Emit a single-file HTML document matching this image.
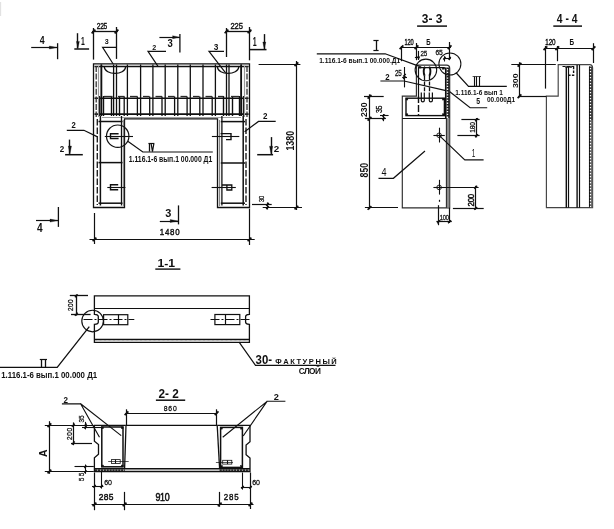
<!DOCTYPE html>
<html><head><meta charset="utf-8"><title>drawing</title>
<style>
html,body{margin:0;padding:0;background:#fff;}
body{width:614px;height:529px;overflow:hidden;font-family:"Liberation Sans",sans-serif;}
svg{display:block;filter:grayscale(1);}
</style></head><body>
<svg width="614" height="529" viewBox="0 0 614 529">
<rect x="0" y="0" width="614" height="529" fill="#ffffff"/>
<path d="M93.5,207.5 L93.5,63.9 L249.5,63.9 L249.5,207.5 L217.5,207.5 L217.5,118.9 L124.5,118.9 L124.5,207.5 Z" fill="none" stroke="#101010" stroke-width="1.3"/>
<line x1="94.5" y1="66.6" x2="248.6" y2="66.6" stroke="#101010" stroke-width="1.5"/>
<line x1="94.5" y1="98.2" x2="248.6" y2="98.2" stroke="#101010" stroke-width="1.5"/>
<line x1="94.5" y1="114.2" x2="248.6" y2="114.2" stroke="#101010" stroke-width="1.7"/>
<line x1="102" y1="117.5" x2="241" y2="117.5" stroke="#777" stroke-width="0.7"/>
<line x1="101.4" y1="64.5" x2="101.4" y2="116.0" stroke="#101010" stroke-width="1.3"/>
<line x1="113.6" y1="64.5" x2="113.6" y2="116.0" stroke="#101010" stroke-width="1.3"/>
<line x1="116.5" y1="64.5" x2="116.5" y2="116.0" stroke="#101010" stroke-width="1.3"/>
<line x1="127.4" y1="64.5" x2="127.4" y2="116.0" stroke="#101010" stroke-width="1.3"/>
<line x1="140.6" y1="64.5" x2="140.6" y2="116.0" stroke="#101010" stroke-width="1.3"/>
<line x1="152.9" y1="64.5" x2="152.9" y2="116.0" stroke="#101010" stroke-width="1.3"/>
<line x1="165.2" y1="64.5" x2="165.2" y2="116.0" stroke="#101010" stroke-width="1.3"/>
<line x1="177.8" y1="64.5" x2="177.8" y2="116.0" stroke="#101010" stroke-width="1.3"/>
<line x1="190.3" y1="64.5" x2="190.3" y2="116.0" stroke="#101010" stroke-width="1.3"/>
<line x1="203.0" y1="64.5" x2="203.0" y2="116.0" stroke="#101010" stroke-width="1.3"/>
<line x1="215.4" y1="64.5" x2="215.4" y2="116.0" stroke="#101010" stroke-width="1.3"/>
<line x1="226.5" y1="64.5" x2="226.5" y2="116.0" stroke="#101010" stroke-width="1.3"/>
<line x1="229.0" y1="64.5" x2="229.0" y2="116.0" stroke="#101010" stroke-width="1.3"/>
<line x1="241.2" y1="64.5" x2="241.2" y2="116.0" stroke="#101010" stroke-width="1.3"/>
<line x1="101.4" y1="64.5" x2="101.4" y2="116.0" stroke="#101010" stroke-width="1.7"/>
<line x1="241.2" y1="64.5" x2="241.2" y2="116.0" stroke="#101010" stroke-width="1.7"/>
<line x1="124.2" y1="96.5" x2="124.2" y2="116.0" stroke="#101010" stroke-width="1.3"/>
<line x1="137.4" y1="96.5" x2="137.4" y2="116.0" stroke="#101010" stroke-width="1.3"/>
<line x1="149.70000000000002" y1="96.5" x2="149.70000000000002" y2="116.0" stroke="#101010" stroke-width="1.3"/>
<line x1="162.0" y1="96.5" x2="162.0" y2="116.0" stroke="#101010" stroke-width="1.3"/>
<line x1="174.60000000000002" y1="96.5" x2="174.60000000000002" y2="116.0" stroke="#101010" stroke-width="1.3"/>
<line x1="187.10000000000002" y1="96.5" x2="187.10000000000002" y2="116.0" stroke="#101010" stroke-width="1.3"/>
<line x1="199.8" y1="96.5" x2="199.8" y2="116.0" stroke="#101010" stroke-width="1.3"/>
<line x1="212.20000000000002" y1="96.5" x2="212.20000000000002" y2="116.0" stroke="#101010" stroke-width="1.3"/>
<line x1="103.5" y1="96" x2="103.5" y2="116.0" stroke="#101010" stroke-width="1.4"/>
<line x1="111.5" y1="96" x2="111.5" y2="116.0" stroke="#101010" stroke-width="1.4"/>
<line x1="119.5" y1="96" x2="119.5" y2="116.0" stroke="#101010" stroke-width="1.4"/>
<line x1="232.5" y1="96" x2="232.5" y2="116.0" stroke="#101010" stroke-width="1.4"/>
<line x1="223.5" y1="96" x2="223.5" y2="116.0" stroke="#101010" stroke-width="1.4"/>
<line x1="239.5" y1="96" x2="239.5" y2="116.0" stroke="#101010" stroke-width="1.4"/>
<line x1="243.5" y1="96" x2="243.5" y2="116.0" stroke="#101010" stroke-width="1.4"/>
<line x1="99.5" y1="96" x2="99.5" y2="116.0" stroke="#101010" stroke-width="1.4"/>
<line x1="104" y1="96.5" x2="112.5" y2="96.5" stroke="#2a2a2a" stroke-width="1.3"/>
<line x1="118" y1="96.5" x2="124.5" y2="96.5" stroke="#2a2a2a" stroke-width="1.3"/>
<line x1="130" y1="96.5" x2="137.5" y2="96.5" stroke="#2a2a2a" stroke-width="1.3"/>
<line x1="143" y1="96.5" x2="149.5" y2="96.5" stroke="#2a2a2a" stroke-width="1.3"/>
<line x1="155.5" y1="96.5" x2="162" y2="96.5" stroke="#2a2a2a" stroke-width="1.3"/>
<line x1="168" y1="96.5" x2="174.5" y2="96.5" stroke="#2a2a2a" stroke-width="1.3"/>
<line x1="180.5" y1="96.5" x2="187" y2="96.5" stroke="#2a2a2a" stroke-width="1.3"/>
<line x1="193" y1="96.5" x2="199.5" y2="96.5" stroke="#2a2a2a" stroke-width="1.3"/>
<line x1="205.5" y1="96.5" x2="212" y2="96.5" stroke="#2a2a2a" stroke-width="1.3"/>
<line x1="218" y1="96.5" x2="223.5" y2="96.5" stroke="#2a2a2a" stroke-width="1.3"/>
<line x1="231" y1="96.5" x2="239" y2="96.5" stroke="#2a2a2a" stroke-width="1.3"/>
<line x1="96.2" y1="66" x2="96.2" y2="117" stroke="#333" stroke-width="1.3" stroke-dasharray="6 1.6"/>
<line x1="247.0" y1="66" x2="247.0" y2="117" stroke="#333" stroke-width="1.3" stroke-dasharray="6 1.6"/>
<line x1="98.5" y1="66" x2="98.5" y2="117" stroke="#999" stroke-width="1.2"/>
<line x1="244.5" y1="66" x2="244.5" y2="117" stroke="#999" stroke-width="1.2"/>
<path d="M104.3,67 C105,75.5 125,75.5 125.6,67" fill="none" stroke="#101010" stroke-width="1.3"/>
<path d="M217.4,67 C218,75.5 238,75.5 238.8,67" fill="none" stroke="#101010" stroke-width="1.3"/>
<line x1="97.3" y1="119" x2="97.3" y2="205" stroke="#222" stroke-width="1.4" stroke-dasharray="6.5 2"/>
<line x1="100.4" y1="116" x2="100.4" y2="205.5" stroke="#101010" stroke-width="1.5"/>
<line x1="121.5" y1="116" x2="121.5" y2="205.5" stroke="#101010" stroke-width="1.3"/>
<line x1="123.5" y1="120" x2="123.5" y2="206" stroke="#888" stroke-width="1.2"/>
<line x1="98.5" y1="121.5" x2="122.5" y2="121.5" stroke="#101010" stroke-width="1.5"/>
<line x1="98.5" y1="162.6" x2="122.5" y2="162.6" stroke="#101010" stroke-width="1.5"/>
<line x1="98.5" y1="203.2" x2="122.5" y2="203.2" stroke="#101010" stroke-width="1.5"/>
<line x1="246.0" y1="119" x2="246.0" y2="205" stroke="#222" stroke-width="1.4" stroke-dasharray="6.5 2"/>
<line x1="243.2" y1="116" x2="243.2" y2="205.5" stroke="#101010" stroke-width="1.5"/>
<line x1="221.9" y1="116" x2="221.9" y2="205.5" stroke="#101010" stroke-width="1.3"/>
<line x1="219.5" y1="120" x2="219.5" y2="206" stroke="#888" stroke-width="1.2"/>
<line x1="220.8" y1="121.6" x2="245" y2="121.6" stroke="#101010" stroke-width="1.5"/>
<line x1="220.8" y1="163.0" x2="245" y2="163.0" stroke="#101010" stroke-width="1.5"/>
<line x1="220.8" y1="203.2" x2="245" y2="203.2" stroke="#101010" stroke-width="1.5"/>
<circle cx="117.7" cy="136.2" r="11.2" fill="none" stroke="#101010" stroke-width="1.15"/>
<line x1="104.8" y1="136.5" x2="133" y2="136.5" stroke="#101010" stroke-width="1.1"/>
<path d="M118.6,133.7 L110.5,133.7 L110.5,138.5 L118.6,138.5" fill="none" stroke="#101010" stroke-width="1.4"/>
<line x1="107.3" y1="187.5" x2="125.4" y2="187.5" stroke="#101010" stroke-width="1.1"/>
<path d="M118.2,184.8 L110.5,184.8 L110.5,189.7 L118.2,189.7" fill="none" stroke="#101010" stroke-width="1.4"/>
<line x1="211.9" y1="136.5" x2="239.3" y2="136.5" stroke="#101010" stroke-width="1.1"/>
<path d="M220.6,133.6 L231,133.6 L231,139.6 L226,139.6" fill="none" stroke="#101010" stroke-width="1.4"/>
<line x1="211.6" y1="187.5" x2="235.8" y2="187.5" stroke="#101010" stroke-width="1.1"/>
<path d="M222,185 L231.8,185 L231.8,190 L226.9,190 L226.9,185" fill="none" stroke="#101010" stroke-width="1.3"/>
<path d="M127.8,141.2 L142.8,152 L212.8,152" fill="none" stroke="#101010" stroke-width="1.2"/>
<line x1="148.4" y1="143.5" x2="154.4" y2="143.5" stroke="#101010" stroke-width="1.2"/>
<line x1="149.5" y1="143.9" x2="149.5" y2="151.6" stroke="#101010" stroke-width="1.3"/>
<path d="M151.16,143.9 L152.48,151.6 L153.8,143.9" fill="none" stroke="#101010" stroke-width="1.2"/>
<text x="128.72" y="161.8" font-size="9.3" font-weight="bold" fill="#101010" font-family="'Liberation Sans', sans-serif" textLength="83.56" lengthAdjust="spacingAndGlyphs">1.116.1-6 вып.1 00.000 Д1</text>
<line x1="93.5" y1="28" x2="93.5" y2="59.6" stroke="#101010" stroke-width="1.3"/>
<line x1="116.5" y1="27" x2="116.5" y2="58.9" stroke="#101010" stroke-width="1.3"/>
<line x1="92" y1="31.5" x2="117.8" y2="31.5" stroke="#101010" stroke-width="1.3"/>
<line x1="91.63" y1="33.37" x2="95.37" y2="29.63" stroke="#101010" stroke-width="1.7"/>
<line x1="114.63" y1="33.37" x2="118.37" y2="29.63" stroke="#101010" stroke-width="1.7"/>
<text x="0" y="0" font-size="8.59" font-weight="normal" fill="#101010" stroke="#101010" stroke-width="0.4" font-family="'Liberation Sans', sans-serif" textLength="13.78" lengthAdjust="spacing" transform="translate(96.7 28.9) scale(0.769 1)">225</text>
<line x1="226.5" y1="28" x2="226.5" y2="57" stroke="#101010" stroke-width="1.3"/>
<line x1="249.5" y1="27" x2="249.5" y2="60.3" stroke="#101010" stroke-width="1.3"/>
<line x1="225.2" y1="31.5" x2="251.2" y2="31.5" stroke="#101010" stroke-width="1.3"/>
<line x1="224.63" y1="33.27" x2="228.37" y2="29.53" stroke="#101010" stroke-width="1.7"/>
<line x1="247.63" y1="33.27" x2="251.37" y2="29.53" stroke="#101010" stroke-width="1.7"/>
<text x="0" y="0" font-size="8.59" font-weight="normal" fill="#101010" stroke="#101010" stroke-width="0.4" font-family="'Liberation Sans', sans-serif" textLength="14.32" lengthAdjust="spacing" transform="translate(230.4 29) scale(0.88 1)">225</text>
<line x1="31.2" y1="47.5" x2="57.6" y2="47.5" stroke="#101010" stroke-width="1.2"/>
<line x1="57.6" y1="43.2" x2="57.6" y2="59.2" stroke="#101010" stroke-width="1.3"/>
<path d="M49.3,46.0 L49.3,49.0 L57.3,47.5 Z" fill="#101010" stroke="#101010" stroke-width="0.3"/>
<text x="39.67" y="44.2" font-size="10.99" font-weight="bold" fill="#101010" font-family="'Liberation Sans', sans-serif" textLength="4.86" lengthAdjust="spacingAndGlyphs">4</text>
<line x1="36" y1="220.5" x2="58.2" y2="220.5" stroke="#101010" stroke-width="1.2"/>
<line x1="58.4" y1="207" x2="58.4" y2="226.9" stroke="#101010" stroke-width="1.3"/>
<path d="M50,219.1 L50,222.1 L58,220.6 Z" fill="#101010" stroke="#101010" stroke-width="0.3"/>
<text x="36.94" y="232.1" font-size="12.11" font-weight="bold" fill="#101010" font-family="'Liberation Sans', sans-serif" textLength="5.63" lengthAdjust="spacingAndGlyphs">4</text>
<line x1="77.5" y1="33.2" x2="77.5" y2="48.6" stroke="#101010" stroke-width="1.4"/>
<line x1="74.3" y1="49" x2="89.1" y2="49" stroke="#101010" stroke-width="1.5"/>
<path d="M76.4,41.4 L79.4,41.4 L77.9,48.4 Z" fill="#101010" stroke="#101010" stroke-width="0.3"/>
<text x="81.06" y="45.2" font-size="11.27" font-weight="bold" fill="#101010" font-family="'Liberation Sans', sans-serif" textLength="3.78" lengthAdjust="spacingAndGlyphs">1</text>
<line x1="264.5" y1="34.1" x2="264.5" y2="49" stroke="#101010" stroke-width="1.4"/>
<line x1="249.5" y1="49.6" x2="266.5" y2="49.6" stroke="#101010" stroke-width="1.5"/>
<path d="M262.8,42 L265.8,42 L264.3,49 Z" fill="#101010" stroke="#101010" stroke-width="0.3"/>
<text x="252.74" y="46" font-size="11.97" font-weight="bold" fill="#101010" font-family="'Liberation Sans', sans-serif" textLength="3.92" lengthAdjust="spacingAndGlyphs">1</text>
<line x1="159.4" y1="37.5" x2="179.9" y2="37.5" stroke="#101010" stroke-width="1.2"/>
<line x1="179.9" y1="34.1" x2="179.9" y2="52.4" stroke="#101010" stroke-width="1.3"/>
<path d="M172.6,35.7 L172.6,38.7 L179.6,37.2 Z" fill="#101010" stroke="#101010" stroke-width="0.3"/>
<text x="167.45" y="47.3" font-size="11.55" font-weight="bold" fill="#101010" font-family="'Liberation Sans', sans-serif" textLength="5.29" lengthAdjust="spacingAndGlyphs">3</text>
<line x1="159.8" y1="221.5" x2="178.5" y2="221.5" stroke="#101010" stroke-width="1.2"/>
<line x1="178.5" y1="205.4" x2="178.5" y2="224.4" stroke="#101010" stroke-width="1.3"/>
<path d="M170.2,219.5 L170.2,222.5 L178.2,221 Z" fill="#101010" stroke="#101010" stroke-width="0.3"/>
<text x="165.15" y="216.7" font-size="11.55" font-weight="bold" fill="#101010" font-family="'Liberation Sans', sans-serif" textLength="6.09" lengthAdjust="spacingAndGlyphs">3</text>
<line x1="69.5" y1="139.6" x2="69.5" y2="153.9" stroke="#101010" stroke-width="1.4"/>
<line x1="65.1" y1="154.7" x2="82.8" y2="154.7" stroke="#101010" stroke-width="1.5"/>
<path d="M68.30000000000001,146 L71.5,146 L69.9,154 Z" fill="#101010" stroke="#101010" stroke-width="0.3"/>
<text x="59.71" y="151.6" font-size="9.58" font-weight="bold" fill="#101010" font-family="'Liberation Sans', sans-serif" textLength="4.47" lengthAdjust="spacingAndGlyphs">2</text>
<line x1="271.5" y1="137.1" x2="271.5" y2="154.9" stroke="#101010" stroke-width="1.4"/>
<line x1="257.2" y1="154.7" x2="273.1" y2="154.7" stroke="#101010" stroke-width="1.5"/>
<path d="M269.5,146.2 L272.70000000000005,146.2 L271.1,154.2 Z" fill="#101010" stroke="#101010" stroke-width="0.3"/>
<text x="273.82" y="151.6" font-size="9.3" font-weight="bold" fill="#101010" font-family="'Liberation Sans', sans-serif" textLength="5.46" lengthAdjust="spacingAndGlyphs">2</text>
<text x="104.77" y="44.4" font-size="7.75" font-weight="bold" fill="#101010" font-family="'Liberation Sans', sans-serif" textLength="3.96" lengthAdjust="spacingAndGlyphs">3</text>
<path d="M116,47.3 L102.6,47.3 L113.2,64" fill="none" stroke="#101010" stroke-width="1.2"/>
<text x="152.26" y="50.1" font-size="8.03" font-weight="bold" fill="#101010" font-family="'Liberation Sans', sans-serif" textLength="3.98" lengthAdjust="spacingAndGlyphs">2</text>
<path d="M166,51.4 L148,51.4 L158,66.3" fill="none" stroke="#101010" stroke-width="1.2"/>
<text x="213.83" y="49.6" font-size="9.01" font-weight="bold" fill="#101010" font-family="'Liberation Sans', sans-serif" textLength="4.64" lengthAdjust="spacingAndGlyphs">3</text>
<path d="M224,51.4 L209,51.4 L225.6,72.8" fill="none" stroke="#101010" stroke-width="1.2"/>
<text x="71.61" y="128.2" font-size="9.58" font-weight="bold" fill="#101010" font-family="'Liberation Sans', sans-serif" textLength="4.27" lengthAdjust="spacingAndGlyphs">2</text>
<path d="M66.8,130.3 L83.9,130.3 L97,136.6" fill="none" stroke="#101010" stroke-width="1.2"/>
<text x="262.92" y="118.5" font-size="9.3" font-weight="bold" fill="#101010" font-family="'Liberation Sans', sans-serif" textLength="4.46" lengthAdjust="spacingAndGlyphs">2</text>
<path d="M275.7,121.4 L258.5,121.4 L244.6,131.8" fill="none" stroke="#101010" stroke-width="1.2"/>
<line x1="258.6" y1="64.5" x2="300.4" y2="64.5" stroke="#101010" stroke-width="1.2"/>
<line x1="296.5" y1="61" x2="296.5" y2="210" stroke="#101010" stroke-width="1.2"/>
<line x1="262.7" y1="207.5" x2="302" y2="207.5" stroke="#101010" stroke-width="1.2"/>
<line x1="294.53" y1="66.07" x2="298.27" y2="62.33" stroke="#101010" stroke-width="1.7"/>
<line x1="294.53" y1="209.47" x2="298.27" y2="205.73" stroke="#101010" stroke-width="1.7"/>
<text x="294.3" y="150.61" font-size="10.28" font-weight="bold" fill="#101010" font-family="'Liberation Sans', sans-serif" textLength="19.82" lengthAdjust="spacingAndGlyphs" transform="rotate(-90 294.3 150.61)">1380</text>
<line x1="252" y1="204.5" x2="271.7" y2="204.5" stroke="#101010" stroke-width="1.2"/>
<line x1="267.5" y1="202.4" x2="267.5" y2="209.5" stroke="#101010" stroke-width="1.2"/>
<line x1="266.14" y1="205.76" x2="268.86" y2="203.04" stroke="#101010" stroke-width="1.4"/>
<line x1="266.14" y1="208.96" x2="268.86" y2="206.24" stroke="#101010" stroke-width="1.4"/>
<text x="0" y="0" font-size="7.04" font-weight="normal" fill="#101010" stroke="#101010" stroke-width="0.28" font-family="'Liberation Sans', sans-serif" textLength="7.52" lengthAdjust="spacing" transform="translate(263.6 202) rotate(-90) scale(0.824 1)">30</text>
<line x1="94.5" y1="213" x2="94.5" y2="244" stroke="#101010" stroke-width="1.2"/>
<line x1="249.5" y1="208.6" x2="249.5" y2="245" stroke="#101010" stroke-width="1.2"/>
<line x1="89.5" y1="239.5" x2="254.7" y2="239.5" stroke="#101010" stroke-width="1.2"/>
<line x1="92.63" y1="241.27" x2="96.37" y2="237.53" stroke="#101010" stroke-width="1.7"/>
<line x1="247.63" y1="241.27" x2="251.37" y2="237.53" stroke="#101010" stroke-width="1.7"/>
<text x="0" y="0" font-size="9.01" font-weight="normal" fill="#101010" stroke="#101010" stroke-width="0.4" font-family="'Liberation Sans', sans-serif" textLength="22.61" lengthAdjust="spacing" transform="translate(159.8 235.4) scale(0.88 1)">1480</text>
<text x="157.4" y="266.6" font-size="10.0" font-weight="bold" fill="#101010" font-family="'Liberation Sans', sans-serif" textLength="17.6" lengthAdjust="spacingAndGlyphs">1-1</text>
<line x1="155.3" y1="269.1" x2="180.4" y2="269.1" stroke="#101010" stroke-width="1.4"/>
<path d="M402.3,207.9 L402.3,96.1 L416.4,96.1 L416.4,65.1 L446.6,65.1 Q449.7,65.1 449.7,68.2 L449.7,207.9 Z" fill="none" stroke="#2e2e2e" stroke-width="1.16"/>
<line x1="402.3" y1="118.5" x2="446.2" y2="118.5" stroke="#101010" stroke-width="1.2"/>
<path d="M418.5,96 L418.5,67.6 L443.5,67.6 Q445.5,67.6 445.5,69.6" fill="none" stroke="#101010" stroke-width="1.2"/>
<line x1="445.6" y1="67.5" x2="445.6" y2="118" stroke="#101010" stroke-width="1.3"/>
<line x1="446.5" y1="118" x2="446.5" y2="207.9" stroke="#333" stroke-width="1.3"/>
<line x1="447.9" y1="67.5" x2="447.9" y2="118.2" stroke="#1c1c1c" stroke-width="3.2"/>
<line x1="447.5" y1="69" x2="447.5" y2="118" stroke="#ffffff" stroke-width="1.4" stroke-dasharray="1.3 1.5"/>
<line x1="448.1" y1="118.2" x2="448.1" y2="207.5" stroke="#8c8c8c" stroke-width="2.2"/>
<rect x="406" y="98.2" width="38.4" height="17.4" fill="none" stroke="#101010" stroke-width="1.4"/>
<rect x="406.0" y="98.19999999999999" width="1.8" height="1.8" fill="#101010" stroke="#101010" stroke-width="0.5"/>
<rect x="406.0" y="113.8" width="1.8" height="1.8" fill="#101010" stroke="#101010" stroke-width="0.5"/>
<rect x="442.5" y="113.8" width="1.8" height="1.8" fill="#101010" stroke="#101010" stroke-width="0.5"/>
<rect x="442.5" y="98.19999999999999" width="1.8" height="1.8" fill="#101010" stroke="#101010" stroke-width="0.5"/>
<line x1="418.5" y1="96" x2="418.5" y2="115.4" stroke="#101010" stroke-width="1.4" stroke-dasharray="7 2"/>
<line x1="424.5" y1="76" x2="424.5" y2="92" stroke="#101010" stroke-width="1.3" stroke-dasharray="4 1.6"/>
<line x1="429.5" y1="76" x2="429.5" y2="92" stroke="#101010" stroke-width="1.3" stroke-dasharray="4 1.6"/>
<path d="M421.3,92.5 L421.3,100.4 Q421.3,101.8 422.8,101.8 Q424.3,101.8 424.3,100.4 L424.3,92.5" fill="none" stroke="#101010" stroke-width="1.2"/>
<path d="M429.3,92.5 L429.3,100.4 Q429.3,101.8 430.8,101.8 Q432.4,101.8 432.4,100.4 L432.4,92.5" fill="none" stroke="#101010" stroke-width="1.2"/>
<path d="M425,66.8 Q422.6,71 424.6,75.8" fill="none" stroke="#101010" stroke-width="1.9"/>
<path d="M429.2,66.6 Q431.6,71 429.4,76" fill="none" stroke="#101010" stroke-width="1.9"/>
<rect x="419.2" y="66.4" width="1.8" height="1.7" fill="#101010" stroke="#101010" stroke-width="0.4"/>
<rect x="442.2" y="67.2" width="2" height="2" fill="#101010" stroke="#101010" stroke-width="0.4"/>
<circle cx="425.9" cy="69.9" r="10.8" fill="none" stroke="#101010" stroke-width="1.05"/>
<circle cx="449.9" cy="64.0" r="11.0" fill="none" stroke="#101010" stroke-width="1.05"/>
<circle cx="439.1" cy="135.3" r="2.3" fill="none" stroke="#101010" stroke-width="0.9"/>
<line x1="433.4" y1="135.5" x2="444.8" y2="135.5" stroke="#101010" stroke-width="1.1"/>
<line x1="439.5" y1="127.70000000000002" x2="439.5" y2="142.5" stroke="#101010" stroke-width="1.1"/>
<circle cx="439.1" cy="187.4" r="2.3" fill="none" stroke="#101010" stroke-width="0.9"/>
<line x1="433.4" y1="187.5" x2="444.8" y2="187.5" stroke="#101010" stroke-width="1.1"/>
<line x1="439.5" y1="179.8" x2="439.5" y2="194.6" stroke="#101010" stroke-width="1.1"/>
<line x1="439.5" y1="199.8" x2="439.5" y2="201.8" stroke="#101010" stroke-width="1.2"/>
<line x1="401.2" y1="47.5" x2="450.9" y2="47.5" stroke="#101010" stroke-width="1.2"/>
<line x1="401.5" y1="46" x2="401.5" y2="61.2" stroke="#101010" stroke-width="1.2"/>
<line x1="416.5" y1="43" x2="416.5" y2="60.2" stroke="#101010" stroke-width="1.2"/>
<line x1="449.5" y1="42" x2="449.5" y2="60.2" stroke="#101010" stroke-width="1.2"/>
<line x1="399.63" y1="49.17" x2="403.37" y2="45.43" stroke="#101010" stroke-width="1.7"/>
<line x1="414.63" y1="49.17" x2="418.37" y2="45.43" stroke="#101010" stroke-width="1.7"/>
<line x1="447.73" y1="49.17" x2="451.47" y2="45.43" stroke="#101010" stroke-width="1.7"/>
<text x="0" y="0" font-size="8.87" font-weight="normal" fill="#101010" stroke="#101010" stroke-width="0.4" font-family="'Liberation Sans', sans-serif" textLength="14.22" lengthAdjust="spacing" transform="translate(404.6 44.9) scale(0.64 1)">120</text>
<text x="426.21" y="45" font-size="9.71" font-weight="bold" fill="#101010" font-family="'Liberation Sans', sans-serif" textLength="4.28" lengthAdjust="spacingAndGlyphs">Б</text>
<text x="0" y="0" font-size="8.03" font-weight="normal" fill="#101010" stroke="#101010" stroke-width="0.28" font-family="'Liberation Sans', sans-serif" textLength="8.59" lengthAdjust="spacing" transform="translate(420.5 55.7) scale(0.78 1)">25</text>
<text x="0" y="0" font-size="8.03" font-weight="normal" fill="#101010" stroke="#101010" stroke-width="0.28" font-family="'Liberation Sans', sans-serif" textLength="8.58" lengthAdjust="spacing" transform="translate(435.6 55.3) scale(0.839 1)">65</text>
<line x1="414.9" y1="57.5" x2="419.4" y2="57.5" stroke="#101010" stroke-width="1.1"/>
<line x1="418.5" y1="50.9" x2="418.5" y2="59.9" stroke="#101010" stroke-width="1.1"/>
<path d="M417.40000000000003,56.6 L419.8,56.6 L418.6,60 Z" fill="#101010" stroke="#101010" stroke-width="0.3"/>
<line x1="443.8" y1="58.5" x2="450.8" y2="58.5" stroke="#101010" stroke-width="1.1"/>
<line x1="444.5" y1="56.2" x2="444.5" y2="61.5" stroke="#101010" stroke-width="1.1"/>
<line x1="443.21" y1="59.49" x2="445.59" y2="57.11" stroke="#101010" stroke-width="1.4"/>
<line x1="448.41" y1="59.49" x2="450.79" y2="57.11" stroke="#101010" stroke-width="1.4"/>
<path d="M316.8,53.8 L385.2,53.8 L419.4,66.4" fill="none" stroke="#101010" stroke-width="1.2"/>
<line x1="373.4" y1="40.5" x2="378.6" y2="40.5" stroke="#101010" stroke-width="1.2"/>
<line x1="373.4" y1="50.5" x2="378.6" y2="50.5" stroke="#101010" stroke-width="1.2"/>
<line x1="376.5" y1="40.9" x2="376.5" y2="50.4" stroke="#101010" stroke-width="1.3"/>
<text x="319.16" y="62.8" font-size="7.89" font-weight="bold" fill="#101010" font-family="'Liberation Sans', sans-serif" textLength="80.97" lengthAdjust="spacingAndGlyphs">1.116.1-6 вып.1 00.000.Д1</text>
<text x="385.32" y="79.6" font-size="9.3" font-weight="bold" fill="#101010" font-family="'Liberation Sans', sans-serif" textLength="4.36" lengthAdjust="spacingAndGlyphs">2</text>
<path d="M380.4,81.0 L404,81.0 L446,90.6" fill="none" stroke="#101010" stroke-width="1.15"/>
<text x="0" y="0" font-size="8.17" font-weight="normal" fill="#101010" stroke="#101010" stroke-width="0.28" font-family="'Liberation Sans', sans-serif" textLength="8.74" lengthAdjust="spacing" transform="translate(395 76.4) scale(0.767 1)">25</text>
<line x1="404.5" y1="67" x2="404.5" y2="87.4" stroke="#101010" stroke-width="1.1"/>
<line x1="402.2" y1="77.5" x2="407" y2="77.5" stroke="#101010" stroke-width="1.1"/>
<line x1="403.23" y1="76.48" x2="405.77" y2="73.92" stroke="#101010" stroke-width="1.4"/>
<line x1="403.23" y1="79.08" x2="405.77" y2="76.52" stroke="#101010" stroke-width="1.4"/>
<path d="M456.3,73 L468.5,86.4 L506.8,86.4" fill="none" stroke="#101010" stroke-width="1.2"/>
<line x1="472.6" y1="76.5" x2="481" y2="76.5" stroke="#101010" stroke-width="0.72"/>
<line x1="474.5" y1="76.5" x2="474.5" y2="86" stroke="#101010" stroke-width="1.12"/>
<line x1="476.5" y1="76.5" x2="476.5" y2="86" stroke="#101010" stroke-width="1.12"/>
<line x1="479.5" y1="76.5" x2="479.5" y2="86" stroke="#101010" stroke-width="1.12"/>
<text x="455.26" y="95" font-size="8.03" font-weight="bold" fill="#101010" font-family="'Liberation Sans', sans-serif" textLength="47.68" lengthAdjust="spacingAndGlyphs">1.116.1-6 вып 1</text>
<text x="476.33" y="104" font-size="9.15" font-weight="bold" fill="#101010" font-family="'Liberation Sans', sans-serif" textLength="3.85" lengthAdjust="spacingAndGlyphs">5</text>
<text x="487.01" y="101.6" font-size="6.34" font-weight="bold" fill="#101010" font-family="'Liberation Sans', sans-serif" textLength="28.08" lengthAdjust="spacingAndGlyphs">00.000Д1</text>
<path d="M449.8,91.8 L470.1,107.7 L487.2,107.7" fill="none" stroke="#101010" stroke-width="1.15"/>
<line x1="369.5" y1="94.3" x2="369.5" y2="209.2" stroke="#101010" stroke-width="1.2"/>
<line x1="364" y1="96.5" x2="383.7" y2="96.5" stroke="#101010" stroke-width="1.2"/>
<line x1="364.9" y1="118.5" x2="385.9" y2="118.5" stroke="#101010" stroke-width="1.2"/>
<line x1="364.9" y1="207.5" x2="398" y2="207.5" stroke="#101010" stroke-width="1.2"/>
<line x1="367.63" y1="98.57" x2="371.37" y2="94.83" stroke="#101010" stroke-width="1.7"/>
<line x1="367.63" y1="120.57" x2="371.37" y2="116.83" stroke="#101010" stroke-width="1.7"/>
<line x1="367.63" y1="209.77" x2="371.37" y2="206.03" stroke="#101010" stroke-width="1.7"/>
<text x="367.5" y="116.97" font-size="9.15" font-weight="bold" fill="#101010" font-family="'Liberation Sans', sans-serif" textLength="14.45" lengthAdjust="spacingAndGlyphs" transform="rotate(-90 367.5 116.97)">230</text>
<text x="0" y="0" font-size="8.17" font-weight="normal" fill="#101010" stroke="#101010" stroke-width="0.28" font-family="'Liberation Sans', sans-serif" textLength="8.74" lengthAdjust="spacing" transform="translate(381.9 113.1) rotate(-90) scale(0.87 1)">35</text>
<line x1="383.5" y1="114" x2="383.5" y2="121.2" stroke="#101010" stroke-width="1.1"/>
<line x1="380" y1="115.5" x2="388.6" y2="115.5" stroke="#101010" stroke-width="1.1"/>
<line x1="382.43" y1="119.98" x2="384.97" y2="117.42" stroke="#101010" stroke-width="1.4"/>
<line x1="382.51" y1="116.79" x2="384.89" y2="114.41" stroke="#101010" stroke-width="1.4"/>
<text x="367.6" y="177.4" font-size="10.0" font-weight="bold" fill="#101010" font-family="'Liberation Sans', sans-serif" textLength="14.5" lengthAdjust="spacingAndGlyphs" transform="rotate(-90 367.6 177.4)">850</text>
<text x="381.57" y="175.8" font-size="11.13" font-weight="normal" fill="#101010" font-family="'Liberation Sans', sans-serif" textLength="5.07" lengthAdjust="spacingAndGlyphs">4</text>
<path d="M378.5,178.3 L393.4,178.3 L425,151" fill="none" stroke="#101010" stroke-width="1.15"/>
<text x="471.68" y="156.8" font-size="10.56" font-weight="normal" fill="#101010" font-family="'Liberation Sans', sans-serif" textLength="3.63" lengthAdjust="spacingAndGlyphs">1</text>
<path d="M439.1,135.3 L464.8,159.8 L483.6,159.8" fill="none" stroke="#101010" stroke-width="1.15"/>
<line x1="461.4" y1="119.5" x2="479.6" y2="119.5" stroke="#101010" stroke-width="1.2"/>
<line x1="457.4" y1="135.5" x2="479.6" y2="135.5" stroke="#101010" stroke-width="1.2"/>
<line x1="476.5" y1="118" x2="476.5" y2="137.4" stroke="#101010" stroke-width="1.2"/>
<line x1="475.06" y1="121.14" x2="477.94" y2="118.26" stroke="#101010" stroke-width="1.4"/>
<line x1="475.06" y1="137.14" x2="477.94" y2="134.25" stroke="#101010" stroke-width="1.4"/>
<text x="0" y="0" font-size="8.03" font-weight="normal" fill="#101010" stroke="#101010" stroke-width="0.28" font-family="'Liberation Sans', sans-serif" textLength="12.87" lengthAdjust="spacing" transform="translate(474.5 132.8) rotate(-90) scale(0.839 1)">180</text>
<line x1="441.2" y1="187.5" x2="478.6" y2="187.5" stroke="#101010" stroke-width="1.2"/>
<line x1="452.9" y1="208.5" x2="483.7" y2="208.5" stroke="#101010" stroke-width="1.2"/>
<line x1="475.5" y1="185.8" x2="475.5" y2="209.6" stroke="#101010" stroke-width="1.2"/>
<line x1="474.25" y1="188.75" x2="477.14" y2="185.86" stroke="#101010" stroke-width="1.4"/>
<line x1="474.25" y1="209.84" x2="477.14" y2="206.96" stroke="#101010" stroke-width="1.4"/>
<text x="0" y="0" font-size="9.3" font-weight="normal" fill="#101010" stroke="#101010" stroke-width="0.5" font-family="'Liberation Sans', sans-serif" textLength="14.91" lengthAdjust="spacing" transform="translate(474 206.4) rotate(-90) scale(0.845 1)">200</text>
<line x1="438.5" y1="205.2" x2="438.5" y2="225.2" stroke="#101010" stroke-width="1.2"/>
<line x1="449.5" y1="208" x2="449.5" y2="223" stroke="#101010" stroke-width="1.2"/>
<line x1="436.4" y1="221.5" x2="451.8" y2="221.5" stroke="#101010" stroke-width="1.2"/>
<line x1="437.25" y1="223.14" x2="440.14" y2="220.25" stroke="#101010" stroke-width="1.4"/>
<line x1="448.06" y1="223.14" x2="450.94" y2="220.25" stroke="#101010" stroke-width="1.4"/>
<text x="0" y="0" font-size="7.61" font-weight="normal" fill="#101010" stroke="#101010" stroke-width="0.28" font-family="'Liberation Sans', sans-serif" textLength="12.2" lengthAdjust="spacing" transform="translate(439.8 219.7) scale(0.754 1)">100</text>
<text x="421.8" y="23" font-size="13.24" font-weight="bold" fill="#101010" font-family="'Liberation Sans', sans-serif" textLength="20.59" lengthAdjust="spacingAndGlyphs">3- 3</text>
<line x1="417.1" y1="26.1" x2="447" y2="26.1" stroke="#101010" stroke-width="1.5"/>
<path d="M546.4,207.7 L546.4,96.2 L558.2,96.2 L558.2,64.7 L589.6,64.7 Q592.6,64.7 592.6,68 L592.6,207.7 Z" fill="none" stroke="#444444" stroke-width="1.16"/>
<line x1="566.3" y1="66.9" x2="566.3" y2="207.7" stroke="#101010" stroke-width="1.4"/>
<line x1="568.5" y1="66.9" x2="568.5" y2="207.7" stroke="#101010" stroke-width="1.2"/>
<line x1="577.1" y1="65" x2="577.1" y2="207.7" stroke="#101010" stroke-width="1.4"/>
<line x1="579.5" y1="65" x2="579.5" y2="207.7" stroke="#101010" stroke-width="1.2"/>
<line x1="590.8" y1="66.5" x2="590.8" y2="120" stroke="#3a3a3a" stroke-width="3.4"/>
<line x1="590.8" y1="120" x2="590.8" y2="207.5" stroke="#686868" stroke-width="3.4"/>
<line x1="589.5" y1="66.5" x2="589.5" y2="207.5" stroke="#101010" stroke-width="1.1"/>
<line x1="590.5" y1="68" x2="590.5" y2="207" stroke="#ffffff" stroke-width="1.2" stroke-dasharray="1.3 1.7"/>
<path d="M565.4,67 L573.6,67 L573.6,75.3 L566,75.3" fill="none" stroke="#101010" stroke-width="1.4" stroke-dasharray="2.6 1.3"/>
<line x1="562.5" y1="66.5" x2="574" y2="66.5" stroke="#101010" stroke-width="1.2" stroke-dasharray="3 1.6"/>
<line x1="543.9" y1="48.5" x2="594" y2="48.5" stroke="#101010" stroke-width="1.2"/>
<line x1="545.5" y1="46" x2="545.5" y2="88.6" stroke="#101010" stroke-width="1.2"/>
<line x1="557.5" y1="46" x2="557.5" y2="61.2" stroke="#101010" stroke-width="1.2"/>
<line x1="593.5" y1="43.2" x2="593.5" y2="63" stroke="#101010" stroke-width="1.2"/>
<line x1="543.53" y1="50.17" x2="547.27" y2="46.43" stroke="#101010" stroke-width="1.7"/>
<line x1="555.43" y1="50.17" x2="559.17" y2="46.43" stroke="#101010" stroke-width="1.7"/>
<line x1="591.63" y1="50.17" x2="595.37" y2="46.43" stroke="#101010" stroke-width="1.7"/>
<text x="0" y="0" font-size="9.15" font-weight="normal" fill="#101010" stroke="#101010" stroke-width="0.4" font-family="'Liberation Sans', sans-serif" textLength="14.68" lengthAdjust="spacing" transform="translate(545.3 45.3) scale(0.695 1)">120</text>
<text x="569.53" y="44.9" font-size="9.13" font-weight="bold" fill="#101010" font-family="'Liberation Sans', sans-serif" textLength="4.55" lengthAdjust="spacingAndGlyphs">Б</text>
<line x1="519.5" y1="62.2" x2="519.5" y2="97.2" stroke="#101010" stroke-width="1.2"/>
<line x1="511.3" y1="64.5" x2="555.8" y2="64.5" stroke="#101010" stroke-width="1.2"/>
<line x1="518" y1="96.5" x2="546.4" y2="96.5" stroke="#101010" stroke-width="1.2"/>
<line x1="517.63" y1="66.57" x2="521.37" y2="62.83" stroke="#101010" stroke-width="1.7"/>
<line x1="517.63" y1="98.07" x2="521.37" y2="94.33" stroke="#101010" stroke-width="1.7"/>
<text x="518" y="88.04" font-size="8.03" font-weight="bold" fill="#101010" font-family="'Liberation Sans', sans-serif" textLength="14.68" lengthAdjust="spacingAndGlyphs" transform="rotate(-90 518 88.04)">300</text>
<text x="556.82" y="23" font-size="12.54" font-weight="bold" fill="#101010" font-family="'Liberation Sans', sans-serif" textLength="20.55" lengthAdjust="spacingAndGlyphs">4 - 4</text>
<line x1="553.3" y1="26.1" x2="582" y2="26.1" stroke="#101010" stroke-width="1.5"/>
<path d="M94.4,295.9 L249.4,295.9 L249.4,314.3 Q245.6,314.6 245.6,316.4 L245.6,322.2 Q245.6,324 249.4,324.3 L249.4,342.3 L94.4,342.3 L94.4,324.3 Q98.3,324 98.3,322.2 L98.3,316.4 Q98.3,314.6 94.4,314.3 Z" fill="none" stroke="#101010" stroke-width="1.3"/>
<line x1="94.4" y1="308.5" x2="249.4" y2="308.5" stroke="#101010" stroke-width="1.2"/>
<line x1="94.4" y1="339.5" x2="249.4" y2="339.5" stroke="#101010" stroke-width="1.6"/>
<line x1="95" y1="340.5" x2="249" y2="340.5" stroke="#aaaaaa" stroke-width="0.7" stroke-dasharray="2 2.5"/>
<circle cx="92.6" cy="321.0" r="10.8" fill="none" stroke="#101010" stroke-width="1.15"/>
<line x1="83.5" y1="319.5" x2="134.3" y2="319.5" stroke="#101010" stroke-width="1.1" stroke-dasharray="9 2 2 2"/>
<rect x="103.6" y="314.7" width="24.2" height="10.0" fill="none" stroke="#101010" stroke-width="1.2"/>
<line x1="118.5" y1="314.7" x2="118.5" y2="324.7" stroke="#101010" stroke-width="1.2"/>
<line x1="210.5" y1="319.5" x2="250" y2="319.5" stroke="#101010" stroke-width="1.1" stroke-dasharray="9 2 2 2"/>
<rect x="214.9" y="314.5" width="24.9" height="10.1" fill="none" stroke="#101010" stroke-width="1.2"/>
<line x1="225.5" y1="314.5" x2="225.5" y2="324.6" stroke="#101010" stroke-width="1.2"/>
<line x1="76.5" y1="294.4" x2="76.5" y2="315.6" stroke="#101010" stroke-width="1.3"/>
<line x1="69.8" y1="295.5" x2="88" y2="295.5" stroke="#101010" stroke-width="1.3"/>
<line x1="71" y1="314.5" x2="90.6" y2="314.5" stroke="#101010" stroke-width="1.3"/>
<line x1="74.86" y1="297.34" x2="77.74" y2="294.45" stroke="#101010" stroke-width="1.4"/>
<line x1="74.86" y1="315.75" x2="77.74" y2="312.86" stroke="#101010" stroke-width="1.4"/>
<text x="0" y="0" font-size="7.32" font-weight="normal" fill="#101010" stroke="#101010" stroke-width="0.28" font-family="'Liberation Sans', sans-serif" textLength="13.3" lengthAdjust="spacing" transform="translate(73 311) rotate(-90) scale(0.88 1)">200</text>
<path d="M89.3,326.7 L57.2,367.4 L0,367.4" fill="none" stroke="#101010" stroke-width="1.3"/>
<line x1="39.8" y1="359.5" x2="47" y2="359.5" stroke="#101010" stroke-width="1.2"/>
<line x1="41.5" y1="359.2" x2="41.5" y2="367.2" stroke="#101010" stroke-width="1.3"/>
<line x1="45.5" y1="359.2" x2="45.5" y2="367.2" stroke="#101010" stroke-width="1.3"/>
<text x="1.21" y="378.2" font-size="9.58" font-weight="bold" fill="#101010" font-family="'Liberation Sans', sans-serif" textLength="95.87" lengthAdjust="spacingAndGlyphs">1.116.1-6 вып.1 00.000 Д1</text>
<path d="M239.1,342.2 L255.5,365.4 L335.5,365.4" fill="none" stroke="#101010" stroke-width="1.2"/>
<text x="255.62" y="363.6" font-size="12.68" font-weight="bold" fill="#101010" font-family="'Liberation Sans', sans-serif" textLength="16.46" lengthAdjust="spacingAndGlyphs">30-</text>
<text x="275.37" y="363.6" font-size="7.54" font-weight="bold" fill="#101010" font-family="'Liberation Sans', sans-serif" textLength="61.35" lengthAdjust="spacing">ФАКТУРНЫЙ</text>
<text x="298.75" y="374.3" font-size="8.26" font-weight="bold" fill="#101010" font-family="'Liberation Sans', sans-serif" textLength="22.1" lengthAdjust="spacing">СЛОЙ</text>
<path d="M125.8,425.3 L94.4,425.3 L94.4,441.2 L98.5,444.6 L98.5,454.3 L94.4,457.7 L94.4,471.5 L250,471.5 L250,458 L246.1,454.8 L246.1,445 L250,441.7 L250,425.3 L217.4,425.3" fill="none" stroke="#101010" stroke-width="1.3"/>
<line x1="125.8" y1="425.3" x2="217.4" y2="425.3" stroke="#101010" stroke-width="1.3"/>
<line x1="94.2" y1="468.8" x2="250" y2="468.8" stroke="#101010" stroke-width="1.5"/>
<line x1="126.0" y1="425.3" x2="124.6" y2="468.8" stroke="#101010" stroke-width="1.3"/>
<line x1="217.2" y1="425.3" x2="219.6" y2="468.8" stroke="#101010" stroke-width="1.3"/>
<rect x="101.8" y="427.0" width="21.2" height="39.8" fill="none" stroke="#101010" stroke-width="1.5"/>
<rect x="220.6" y="427.4" width="21.8" height="40.0" fill="none" stroke="#101010" stroke-width="1.5"/>
<rect x="101.69999999999999" y="426.90000000000003" width="1.8" height="1.8" fill="#101010" stroke="#101010" stroke-width="0.5"/>
<rect x="121.3" y="426.90000000000003" width="1.8" height="1.8" fill="#101010" stroke="#101010" stroke-width="0.5"/>
<rect x="101.69999999999999" y="465.1" width="1.8" height="1.8" fill="#101010" stroke="#101010" stroke-width="0.5"/>
<rect x="121.3" y="465.1" width="1.8" height="1.8" fill="#101010" stroke="#101010" stroke-width="0.5"/>
<rect x="220.5" y="427.3" width="1.8" height="1.8" fill="#101010" stroke="#101010" stroke-width="0.5"/>
<rect x="240.7" y="427.3" width="1.8" height="1.8" fill="#101010" stroke="#101010" stroke-width="0.5"/>
<rect x="220.5" y="465.70000000000005" width="1.8" height="1.8" fill="#101010" stroke="#101010" stroke-width="0.5"/>
<rect x="240.7" y="465.70000000000005" width="1.8" height="1.8" fill="#101010" stroke="#101010" stroke-width="0.5"/>
<line x1="95" y1="470.2" x2="124.8" y2="470.2" stroke="#262626" stroke-width="1.8" stroke-dasharray="2.2 0.7"/>
<line x1="219.6" y1="470.2" x2="249.4" y2="470.2" stroke="#262626" stroke-width="1.8" stroke-dasharray="2.2 0.7"/>
<line x1="108.2" y1="461.5" x2="128.7" y2="461.5" stroke="#101010" stroke-width="0.7"/>
<rect x="111.4" y="459.6" width="8.8" height="3.8" fill="none" stroke="#101010" stroke-width="0.8"/>
<line x1="115.5" y1="459.6" x2="115.5" y2="463.4" stroke="#101010" stroke-width="1.1"/>
<line x1="215.9" y1="462.5" x2="233" y2="462.5" stroke="#101010" stroke-width="0.7"/>
<rect x="222.7" y="460.3" width="9.1" height="3.8" fill="none" stroke="#101010" stroke-width="0.8"/>
<line x1="227.5" y1="460.3" x2="227.5" y2="464.1" stroke="#101010" stroke-width="1.1"/>
<text x="158.53" y="397.6" font-size="12.39" font-weight="bold" fill="#101010" font-family="'Liberation Sans', sans-serif" textLength="20.24" lengthAdjust="spacingAndGlyphs">2- 2</text>
<line x1="155.9" y1="400.2" x2="185.2" y2="400.2" stroke="#101010" stroke-width="1.5"/>
<text x="0" y="0" font-size="7.75" font-weight="normal" fill="#101010" stroke="#101010" stroke-width="0.28" font-family="'Liberation Sans', sans-serif" textLength="14.89" lengthAdjust="spacing" transform="translate(163.7 410.9) scale(0.88 1)">860</text>
<line x1="125.6" y1="413.5" x2="217.2" y2="413.5" stroke="#101010" stroke-width="1.2"/>
<line x1="126.5" y1="409.3" x2="126.5" y2="425" stroke="#101010" stroke-width="1.2"/>
<line x1="216.5" y1="409.3" x2="216.5" y2="425" stroke="#101010" stroke-width="1.2"/>
<line x1="124.63" y1="415.17" x2="128.37" y2="411.43" stroke="#101010" stroke-width="1.7"/>
<line x1="214.73" y1="415.17" x2="218.47" y2="411.43" stroke="#101010" stroke-width="1.7"/>
<line x1="49.5" y1="421.2" x2="49.5" y2="473.8" stroke="#101010" stroke-width="1.2"/>
<line x1="44.8" y1="425.5" x2="93.8" y2="425.5" stroke="#101010" stroke-width="1.2"/>
<line x1="44.8" y1="471.5" x2="93.8" y2="471.5" stroke="#101010" stroke-width="1.2"/>
<line x1="47.53" y1="427.17" x2="51.27" y2="423.43" stroke="#101010" stroke-width="1.7"/>
<line x1="47.53" y1="473.37" x2="51.27" y2="469.63" stroke="#101010" stroke-width="1.7"/>
<text x="47" y="456.91" font-size="10.43" font-weight="bold" fill="#101010" font-family="'Liberation Sans', sans-serif" textLength="7.53" lengthAdjust="spacingAndGlyphs" transform="rotate(-90 47 456.91)">A</text>
<line x1="73.5" y1="422.4" x2="73.5" y2="445.2" stroke="#101010" stroke-width="1.2"/>
<line x1="71" y1="443.5" x2="92" y2="443.5" stroke="#101010" stroke-width="1.2"/>
<line x1="71.86" y1="426.75" x2="74.74" y2="423.86" stroke="#101010" stroke-width="1.4"/>
<line x1="71.86" y1="444.44" x2="74.74" y2="441.56" stroke="#101010" stroke-width="1.4"/>
<text x="0" y="0" font-size="7.32" font-weight="normal" fill="#101010" stroke="#101010" stroke-width="0.28" font-family="'Liberation Sans', sans-serif" textLength="13.75" lengthAdjust="spacing" transform="translate(71.7 440.1) rotate(-90) scale(0.88 1)">200</text>
<text x="0" y="0" font-size="7.46" font-weight="normal" fill="#101010" stroke="#101010" stroke-width="0.28" font-family="'Liberation Sans', sans-serif" textLength="7.98" lengthAdjust="spacing" transform="translate(84.3 422.4) rotate(-90) scale(0.865 1)">35</text>
<line x1="85.5" y1="421.9" x2="85.5" y2="429.4" stroke="#101010" stroke-width="1.1"/>
<line x1="82" y1="427.5" x2="101.8" y2="427.5" stroke="#101010" stroke-width="1.1"/>
<line x1="84.31" y1="426.09" x2="86.69" y2="423.71" stroke="#101010" stroke-width="1.4"/>
<line x1="84.31" y1="428.59" x2="86.69" y2="426.21" stroke="#101010" stroke-width="1.4"/>
<text x="0" y="0" font-size="7.46" font-weight="normal" fill="#101010" stroke="#101010" stroke-width="0.28" font-family="'Liberation Sans', sans-serif" textLength="9.89" lengthAdjust="spacing" transform="translate(84.3 481.2) rotate(-90) scale(0.88 1)">55</text>
<line x1="85.5" y1="464.5" x2="85.5" y2="473.8" stroke="#101010" stroke-width="1.1"/>
<line x1="74.5" y1="466.5" x2="93.8" y2="466.5" stroke="#101010" stroke-width="1.1"/>
<line x1="84.31" y1="468.09" x2="86.69" y2="465.71" stroke="#101010" stroke-width="1.4"/>
<line x1="84.31" y1="472.79" x2="86.69" y2="470.41" stroke="#101010" stroke-width="1.4"/>
<text x="0" y="0" font-size="8.03" font-weight="normal" fill="#101010" stroke="#101010" stroke-width="0.28" font-family="'Liberation Sans', sans-serif" textLength="8.75" lengthAdjust="spacing" transform="translate(104.2 484.6) scale(0.88 1)">60</text>
<line x1="92" y1="486.5" x2="103.4" y2="486.5" stroke="#101010" stroke-width="1.1"/>
<line x1="101.5" y1="471.6" x2="101.5" y2="488.6" stroke="#101010" stroke-width="1.1"/>
<line x1="93.22" y1="487.57" x2="95.78" y2="485.03" stroke="#101010" stroke-width="1.4"/>
<line x1="100.22" y1="487.57" x2="102.78" y2="485.03" stroke="#101010" stroke-width="1.4"/>
<text x="0" y="0" font-size="8.03" font-weight="normal" fill="#101010" stroke="#101010" stroke-width="0.28" font-family="'Liberation Sans', sans-serif" textLength="8.64" lengthAdjust="spacing" transform="translate(252.3 485.1) scale(0.88 1)">60</text>
<line x1="240.9" y1="487.5" x2="251.4" y2="487.5" stroke="#101010" stroke-width="1.1"/>
<line x1="242.5" y1="472.5" x2="242.5" y2="489.6" stroke="#101010" stroke-width="1.1"/>
<line x1="241.22" y1="488.57" x2="243.78" y2="486.03" stroke="#101010" stroke-width="1.4"/>
<line x1="249.22" y1="488.57" x2="251.78" y2="486.03" stroke="#101010" stroke-width="1.4"/>
<line x1="91.6" y1="504.5" x2="253.5" y2="504.5" stroke="#101010" stroke-width="1.2"/>
<line x1="94.5" y1="472.5" x2="94.5" y2="510.2" stroke="#101010" stroke-width="1.2"/>
<line x1="124.5" y1="491.9" x2="124.5" y2="510.2" stroke="#101010" stroke-width="1.2"/>
<line x1="219.5" y1="491.9" x2="219.5" y2="506.8" stroke="#101010" stroke-width="1.2"/>
<line x1="250.5" y1="472.5" x2="250.5" y2="509" stroke="#101010" stroke-width="1.2"/>
<line x1="92.63" y1="506.27" x2="96.37" y2="502.53" stroke="#101010" stroke-width="1.7"/>
<line x1="122.73" y1="506.27" x2="126.47" y2="502.53" stroke="#101010" stroke-width="1.7"/>
<line x1="217.83" y1="506.27" x2="221.57" y2="502.53" stroke="#101010" stroke-width="1.7"/>
<line x1="248.63" y1="506.27" x2="252.37" y2="502.53" stroke="#101010" stroke-width="1.7"/>
<text x="0" y="0" font-size="9.58" font-weight="normal" fill="#101010" stroke="#101010" stroke-width="0.5" font-family="'Liberation Sans', sans-serif" textLength="16.7" lengthAdjust="spacing" transform="translate(98.8 500.1) scale(0.88 1)">285</text>
<text x="0" y="0" font-size="10.14" font-weight="normal" fill="#101010" stroke="#101010" stroke-width="0.5" font-family="'Liberation Sans', sans-serif" textLength="16.27" lengthAdjust="spacing" transform="translate(155.4 500.5) scale(0.879 1)">910</text>
<text x="0" y="0" font-size="9.01" font-weight="normal" fill="#101010" stroke="#101010" stroke-width="0.4" font-family="'Liberation Sans', sans-serif" textLength="16.93" lengthAdjust="spacing" transform="translate(223.8 500.4) scale(0.88 1)">285</text>
<text x="63.41" y="403" font-size="9.72" font-weight="bold" fill="#101010" font-family="'Liberation Sans', sans-serif" textLength="4.48" lengthAdjust="spacingAndGlyphs">2</text>
<path d="M61.9,403.8 L80.6,403.8 L99.5,437.2 M80.6,403.8 L121.2,435.6" fill="none" stroke="#101010" stroke-width="1.15"/>
<text x="273.73" y="400" font-size="9.01" font-weight="bold" fill="#101010" font-family="'Liberation Sans', sans-serif" textLength="5.14" lengthAdjust="spacingAndGlyphs">2</text>
<path d="M285.4,401.2 L267.2,401.2 L222.7,437.2 M267.2,401.2 L243.2,436" fill="none" stroke="#101010" stroke-width="1.15"/>
<line x1="0.5" y1="2" x2="0.5" y2="16" stroke="#e2e2e2" stroke-width="1.3"/>
</svg>
</body></html>
